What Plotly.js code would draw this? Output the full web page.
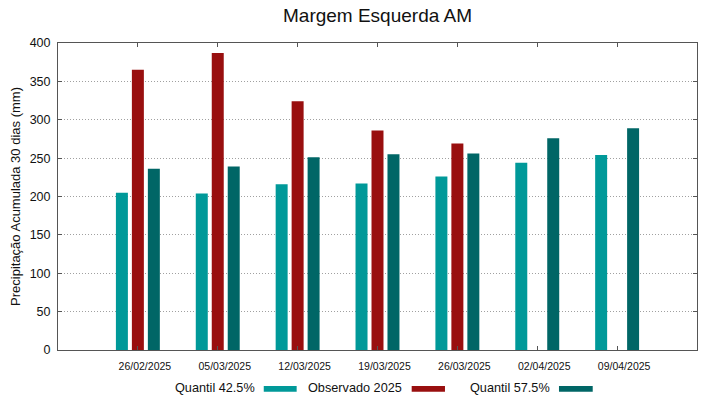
<!DOCTYPE html>
<html>
<head>
<meta charset="utf-8">
<script src="https://cdn.plot.ly/plotly-3.0.1.min.js"></script>
<style>html,body{margin:0;padding:0;background:#fff;}#chart{width:719px;height:399px;}</style>
</head>
<body>
<div id="chart"></div>
<script>
const categories = ["26/02/2025","05/03/2025","12/03/2025","19/03/2025","26/03/2025","02/04/2025","09/04/2025"];
const seriesNames = ["Quantil 42.5%","Observado 2025","Quantil 57.5%"];
const quantil425 = [205, 204, 216, 217, 226, 244, 254];
const observado2025 = [365, 387, 324, 286, 269, null, null];
const quantil575 = [236, 239, 251, 255, 256, 276, 289];
const yTicks = [0, 50, 100, 150, 200, 250, 300, 350, 400];

const colors = ["#009999", "#990f0f", "#006666"];
const values = [quantil425, observado2025, quantil575];
const offsets = [-0.275, -0.075, 0.125];
const font = "Liberation Sans, Arial, sans-serif";

const traces = values.map((v, i) => ({
  type: "bar",
  x: categories,
  y: v,
  name: seriesNames[i],
  marker: {color: colors[i], line: {width: 0}},
  width: 0.15,
  offset: offsets[i],
  hoverinfo: "x+y+name"
}));

// custom legend: label text followed by swatch
const legendPos = [
  {textEnd: 0.311, s0: 0.322, s1: 0.3735},
  {textEnd: 0.5415, s0: 0.5535, s1: 0.6056},
  {textEnd: 0.7726, s0: 0.784, s1: 0.8368}
];
const annotations = seriesNames.map((n, i) => ({
  text: n, xref: "paper", yref: "paper", x: legendPos[i].textEnd, y: -0.1238,
  xanchor: "right", yanchor: "middle", showarrow: false,
  font: {family: font, size: 12.7, color: "#111"}
}));
const shapes = seriesNames.map((n, i) => ({
  type: "rect", xref: "paper", yref: "paper",
  x0: legendPos[i].s0, x1: legendPos[i].s1, y0: -0.1173, y1: -0.1358,
  fillcolor: colors[i], line: {width: 0}
}));

const layout = {
  width: 719, height: 399,
  margin: {l: 58, r: 22, t: 43, b: 49},
  paper_bgcolor: "#fff", plot_bgcolor: "#fff",
  barmode: "overlay",
  showlegend: false,
  font: {family: font, color: "#111"},
  title: {text: "Margem Esquerda AM", font: {family: font, size: 19, color: "#111"},
          x: 0.5, xref: "paper", xanchor: "center", y: 0.962, yanchor: "middle"},
  xaxis: {
    type: "category", range: [-1, 7],
    showgrid: false, zeroline: false,
    showline: true, linecolor: "#555", linewidth: 1, mirror: "ticks",
    ticks: "inside", ticklen: 4, tickcolor: "#555",
    tickfont: {family: font, size: 10.5, color: "#111"},
    ticklabelshift: 7, ticklabelstandoff: 6
  },
  yaxis: {
    range: [0, 400], tickvals: yTicks, ticktext: yTicks.map(String),
    showgrid: true, gridcolor: "#a0a0a0", griddash: "1px,2px", gridwidth: 1,
    zeroline: false,
    showline: true, linecolor: "#555", linewidth: 1, mirror: "ticks",
    ticks: "inside", ticklen: 4, tickcolor: "#555",
    tickfont: {family: font, size: 12.5, color: "#111"},
    ticklabelstandoff: 4,
    title: {text: "Precipitação Acumulada 30 dias (mm)", font: {family: font, size: 13, color: "#111"}, standoff: 6}
  },
  annotations: annotations,
  shapes: shapes
};

Plotly.newPlot("chart", traces, layout, {displayModeBar: false, staticPlot: true});
</script>
</body>
</html>
